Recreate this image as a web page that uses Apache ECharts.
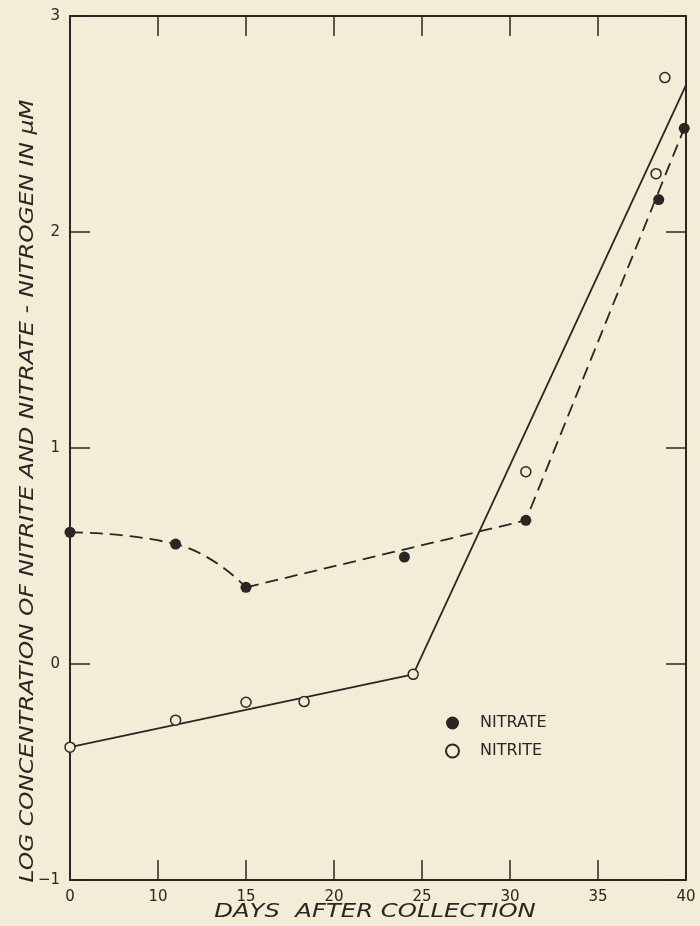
<!DOCTYPE html>
<html>
<head>
<meta charset="utf-8">
<script src="https://cdn.jsdelivr.net/npm/echarts@6/dist/echarts.min.js"></script>
<style>
  html, body { margin: 0; padding: 0; background: #f3ecd6; }
  #main { width: 700px; height: 926px; }
</style>
</head>
<body>
<div id="main"></div>
<script>
// measured points (days after collection, log concentration in uM)
const nitrateDays = [0, 11, 15, 24, 30.9, 38.45, 39.9];
const nitrateLog = [0.61, 0.555, 0.355, 0.495, 0.665, 2.15, 2.48];
const nitriteDays = [0, 11, 15, 18.3, 24.5, 30.9, 38.3, 38.8];
const nitriteLog = [-0.385, -0.26, -0.177, -0.174, -0.048, 0.89, 2.27, 2.715];

// drawn fit lines
const nitrateCurveDays = [0, 11, 15];
const nitrateCurveLog = [0.61, 0.555, 0.355];
const nitrateFitDays = [15, 30.9, 39.9];
const nitrateFitLog = [0.355, 0.665, 2.48];
const nitriteFitDays = [0, 24.5, 40];
const nitriteFitLog = [-0.385, -0.048, 2.68];

const yTicks = [-1, 0, 1, 2, 3];

const ink = "#2a2623";
const paper = "#f3ecd6";
const font = "DejaVu Sans";

// the original x axis squeezes 0-10 days into one tick step
function axisPos(d) {
  return d < 10 ? 5 + d / 2 : d;
}
function pairs(xs, ys) {
  return xs.map((d, i) => [axisPos(d), ys[i]]);
}

const tickStyle = { show: true, inside: true, length: 20, lineStyle: { color: ink, width: 1.5 } };
const lineAxis = { show: true, onZero: false, lineStyle: { color: ink, width: 2 } };

var myChart = echarts.init(document.querySelector("#main"));
myChart.setOption({
  backgroundColor: paper,
  animation: false,
  grid: { left: 70, right: 14, top: 16, bottom: 46 },
  legend: {
    orient: "vertical",
    left: 440,
    top: 710,
    itemWidth: 13,
    itemHeight: 13,
    itemGap: 12,
    data: ["NITRATE", "NITRITE"],
    textStyle: { color: ink, fontFamily: font, fontSize: 16, padding: [0, 0, 0, 16] }
  },
  graphic: [
    {
      type: "text",
      x: 375,
      y: 912,
      scaleX: 1.28,
      style: {
        text: "DAYS  AFTER COLLECTION",
        fill: ink,
        font: "italic 19px 'DejaVu Sans'",
        align: "center",
        verticalAlign: "middle"
      }
    },
    {
      type: "text",
      x: 28,
      y: 491,
      rotation: Math.PI / 2,
      scaleX: 1.17,
      style: {
        text: "LOG CONCENTRATION OF NITRITE AND NITRATE - NITROGEN IN \u03bcM",
        fill: ink,
        font: "italic 20px 'DejaVu Sans'",
        align: "center",
        verticalAlign: "middle"
      }
    }
  ],
  xAxis: [
    {
      type: "value",
      min: 5,
      max: 40,
      interval: 5,
      axisLine: lineAxis,
      axisTick: tickStyle,
      splitLine: { show: false },
      axisLabel: {
        color: ink, fontFamily: font, fontSize: 15, margin: 10,
        formatter: v => (v === 5 ? "0" : String(v))
      }
    },
    {
      type: "value",
      position: "top",
      min: 5,
      max: 40,
      interval: 5,
      axisLine: lineAxis,
      axisTick: tickStyle,
      splitLine: { show: false },
      axisLabel: { show: false }
    }
  ],
  yAxis: [
    {
      type: "value",
      min: yTicks[0],
      max: yTicks[yTicks.length - 1],
      interval: 1,
      axisLine: lineAxis,
      axisTick: tickStyle,
      splitLine: { show: false },
      axisLabel: {
        color: ink, fontFamily: font, fontSize: 15, margin: 10,
        formatter: v => (v < 0 ? "\u2212" + Math.abs(v) : String(v))
      }
    },
    {
      type: "value",
      position: "right",
      min: yTicks[0],
      max: yTicks[yTicks.length - 1],
      interval: 1,
      axisLine: lineAxis,
      axisTick: tickStyle,
      splitLine: { show: false },
      axisLabel: { show: false }
    }
  ],
  series: [
    {
      type: "line",
      data: pairs(nitrateCurveDays, nitrateCurveLog),
      smooth: 0.5,
      symbol: "none",
      lineStyle: { color: ink, width: 1.8, type: [13, 7] },
      z: 2
    },
    {
      type: "line",
      data: pairs(nitrateFitDays, nitrateFitLog),
      symbol: "none",
      lineStyle: { color: ink, width: 1.8, type: [13, 7] },
      z: 2
    },
    {
      type: "line",
      data: pairs(nitriteFitDays, nitriteFitLog),
      symbol: "none",
      lineStyle: { color: ink, width: 1.8 },
      z: 2
    },
    {
      name: "NITRATE",
      type: "scatter",
      data: pairs(nitrateDays, nitrateLog),
      symbol: "circle",
      symbolSize: 11,
      itemStyle: { color: ink, opacity: 1 },
      z: 5
    },
    {
      name: "NITRITE",
      type: "scatter",
      data: pairs(nitriteDays, nitriteLog),
      symbol: "circle",
      symbolSize: 10,
      itemStyle: { color: paper, borderColor: ink, borderWidth: 1.5, opacity: 1 },
      z: 5
    }
  ]
});
window.onresize = function() {
  myChart.resize();
};
</script>
</body>
</html>
